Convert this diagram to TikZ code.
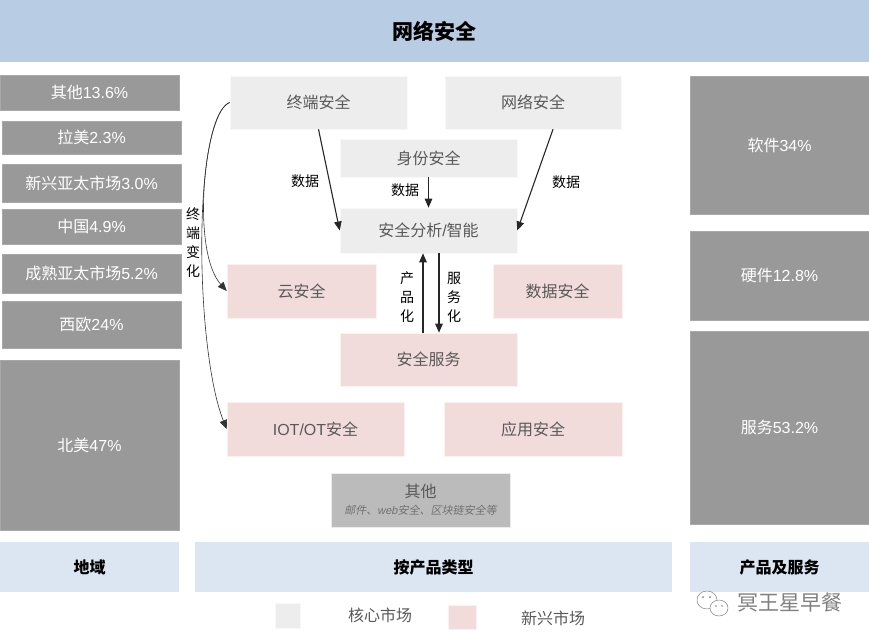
\documentclass[tikz,border=0pt]{standalone}
\usepackage{fontspec}
\setmainfont{Noto Sans CJK SC}
\newfontfamily\slantfont[FakeSlant=0.2]{Noto Sans CJK SC}
\newfontfamily\latinfont{Liberation Sans}
\newfontfamily\slantlatin[FakeSlant=0.2]{Liberation Sans}
\newcommand{\lat}[1]{{\latinfont #1}}
\usepackage{xcolor}
\usetikzlibrary{arrows.meta, positioning, calc}
\definecolor{titleblue}{HTML}{B8CCE4}
\definecolor{barblue}{HTML}{DCE6F2}
\definecolor{regiongray}{HTML}{999999}
\definecolor{coregray}{HTML}{EDEDED}
\definecolor{newpink}{HTML}{F2DCDB}
\definecolor{othergray}{HTML}{BBBBBB}
\definecolor{labelgray}{HTML}{595959}
\tikzset{
  plainbox/.style={inner sep=0pt, text height=12pt, text depth=0pt, font=\fontsize{16}{20}\selectfont},
  regionbox/.style={plainbox, fill=regiongray, text=white, draw=regiongray!85!white, line width=0.6pt},
  corebox/.style={plainbox, fill=coregray, text=labelgray, draw=white!60!coregray, line width=0.6pt},
  newbox/.style={plainbox, fill=newpink, text=labelgray, draw=white!60!newpink, line width=0.6pt},
  barbox/.style={plainbox, fill=barblue, font=\fontsize{16}{20}\selectfont\bfseries},
  flowlabel/.style={inner sep=0pt, font=\fontsize{14}{19}\selectfont, align=center},
  legendlabel/.style={inner sep=0pt, text=labelgray, font=\fontsize{16}{20}\selectfont},
  flowarrow/.style={->, line width=1.1pt, black!85},
  shiftarrow/.style={->, black!80, line width=0.6pt},
  wechat/.style={gray, fill=white, line width=0.5pt},
}
\begin{document}
\begin{tikzpicture}[x=1pt, y=-1pt, >={Stealth[length=9pt, width=7.5pt, inset=0pt]}]
\useasboundingbox (0,0) rectangle (869,641);
% title
\node[plainbox, fill=titleblue, minimum width=869pt, minimum height=62pt, text height=16pt, font=\fontsize{21}{28}\selectfont\bfseries] (title) at (434.5,31) {网络安全};
% regions
\node[regionbox, minimum width=179pt, minimum height=35pt] (otherregion) at (89.5,92.5) {其他\lat{13.6\%}};
\node[regionbox, minimum width=179pt, minimum height=33pt] (latam) at (91.5,137.5) {拉美\lat{2.3\%}};
\node[regionbox, minimum width=179pt, minimum height=38pt] (emergingapac) at (91.5,183) {新兴亚太市场\lat{3.0\%}};
\node[regionbox, minimum width=179pt, minimum height=35pt] (china) at (91.5,226.5) {中国\lat{4.9\%}};
\node[regionbox, minimum width=179pt, minimum height=39pt] (matureapac) at (91.5,273.5) {成熟亚太市场\lat{5.2\%}};
\node[regionbox, minimum width=179pt, minimum height=47pt] (westeurope) at (91.5,324.5) {西欧\lat{24\%}};
\node[regionbox, minimum width=179pt, minimum height=170pt] (northamerica) at (89.5,445) {北美\lat{47\%}};
% product and service split
\node[regionbox, minimum width=179pt, minimum height=138pt] (software) at (779.5,145) {软件\lat{34\%}};
\node[regionbox, minimum width=179pt, minimum height=89pt] (hardware) at (779.5,275.5) {硬件\lat{12.8\%}};
\node[regionbox, minimum width=179pt, minimum height=193pt] (services) at (779.5,427.5) {服务\lat{53.2\%}};
% core markets
\node[corebox, minimum width=177pt, minimum height=53pt] (endpoint) at (318.5,102.5) {终端安全};
\node[corebox, minimum width=176pt, minimum height=53pt] (network) at (533,102.5) {网络安全};
\node[corebox, minimum width=177pt, minimum height=38pt] (identity) at (428.5,158) {身份安全};
\node[corebox, minimum width=177pt, minimum height=45pt] (analytics) at (428.5,230.5) {安全分析\lat{/}智能};
% emerging markets
\node[newbox, minimum width=149pt, minimum height=54pt] (cloud) at (301.5,291) {云安全};
\node[newbox, minimum width=129pt, minimum height=54pt] (datasec) at (557.5,291) {数据安全};
\node[newbox, minimum width=177pt, minimum height=53pt] (service) at (428.5,359.5) {安全服务};
\node[newbox, minimum width=177pt, minimum height=54pt] (iot) at (315.5,429) {\lat{IOT/OT}安全};
\node[newbox, minimum width=178pt, minimum height=54pt] (appsec) at (533,429) {应用安全};
% other
\node[inner sep=0pt, font=\fontsize{16}{20}\selectfont, fill=othergray, text=labelgray, draw=white!70!othergray, line width=0.6pt, minimum width=179pt, minimum height=54pt, align=center] (othertype) at (420.5,500) {其他\\[-3pt]{\slantfont\fontsize{11}{13}\selectfont\color{labelgray!85!white}邮件、{\slantlatin web}安全、区块链安全等}};
% bottom bars
\node[barbox, minimum width=179pt, minimum height=50pt] (regionbar) at (89.5,567) {地域};
\node[barbox, minimum width=477pt, minimum height=50pt] (typebar) at (433.5,567) {按产品类型};
\node[barbox, minimum width=179pt, minimum height=50pt] (servicebar) at (779.5,567) {产品及服务};
% legend
\node[corebox, minimum width=25pt, minimum height=25pt] (corekey) at (287.5,615.5) {};
\node[legendlabel] (coretext) at (380,615) {核心市场};
\node[newbox, minimum width=28pt, minimum height=24pt] (newkey) at (462,617) {};
\node[legendlabel] (newtext) at (553,618) {新兴市场};
% watermark
\draw[wechat] (707,600) ellipse (10pt and 9pt);
\fill[gray] (703,597) circle (1pt) (710,597) circle (1pt);
\draw[wechat] (719,608) ellipse (9pt and 8pt);
\fill[gray] (716,606) circle (0.9pt) (722,606) circle (0.9pt);
\node[inner sep=0pt, text=gray, font=\fontsize{21}{24}\selectfont] (mark) at (790,603) {冥王星早餐};
% data flows
\draw[flowarrow] (endpoint.south) -- (analytics.west);
\draw[flowarrow] ([xshift=20pt]network.south) -- (analytics.east);
\draw[flowarrow] (identity.south) -- (analytics.north);
\draw[flowarrow] ([xshift=-5.5pt]service.north) -- ([xshift=-5.5pt]analytics.south);
\draw[flowarrow] ([xshift=10.5pt]analytics.south) -- ([xshift=10.5pt]service.north);
% endpoint shift
\draw[shiftarrow] (endpoint.west) .. controls (205,110) and (190,250) .. (cloud.west);
\draw[shiftarrow] (endpoint.west) .. controls (192,118) and (195,350) .. (iot.west);
% labels
\node[flowlabel] (datalabela) at (305,181) {数据};
\node[flowlabel] (datalabelb) at (405,190) {数据};
\node[flowlabel] (datalabelc) at (566,182) {数据};
\node[flowlabel] (shiftlabel) at (193,243) {终\\端\\变\\化};
\node[flowlabel] (productlabel) at (407,297) {产\\品\\化};
\node[flowlabel] (servicelabel) at (454,297) {服\\务\\化};
\end{tikzpicture}
\end{document}
